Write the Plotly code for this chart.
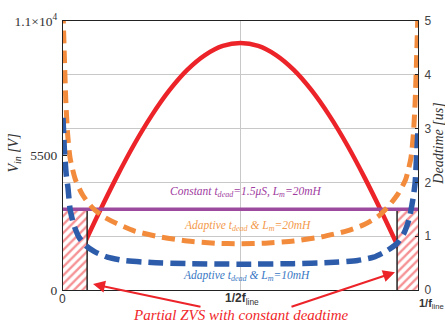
import plotly.graph_objects as go

# Normalised time over one line half-cycle (0 .. 1/f_line)
t_vin = [0.0, 0.05, 0.10, 0.15, 0.20, 0.25, 0.30, 0.35, 0.40, 0.45, 0.50,
         0.55, 0.60, 0.65, 0.70, 0.75, 0.80, 0.85, 0.90, 0.95, 1.0]
vin = [0, 1580, 3120, 4585, 5940, 7140, 8170, 9000, 9605, 9980, 10100,
       9980, 9605, 9000, 8170, 7140, 5940, 4585, 3120, 1580, 0]

# Adaptive deadtime, Lm = 20 mH  [us]
t_ad20 = [0.0, 0.004, 0.008, 0.013, 0.02, 0.035, 0.055, 0.08, 0.11, 0.15, 0.20,
          0.27, 0.35, 0.43, 0.50, 0.57, 0.65, 0.73, 0.80, 0.85, 0.89, 0.92,
          0.945, 0.965, 0.98, 0.987, 0.992, 0.996, 1.0]
ad20 = [5.2, 4.3, 3.5, 2.9, 2.45, 2.05, 1.77, 1.55, 1.38, 1.24, 1.10,
        0.99, 0.91, 0.87, 0.86, 0.87, 0.91, 0.99, 1.10, 1.22, 1.38, 1.58,
        1.80, 2.05, 2.45, 2.9, 3.5, 4.3, 5.2]

# Adaptive deadtime, Lm = 10 mH  [us]
t_ad10 = [0.0, 0.004, 0.009, 0.014, 0.02, 0.03, 0.045, 0.065, 0.09, 0.125, 0.17,
          0.25, 0.35, 0.50, 0.65, 0.75, 0.83, 0.875, 0.91, 0.94, 0.96, 0.975,
          0.986, 0.992, 0.996, 1.0]
ad10 = [3.2, 2.6, 2.15, 1.9, 1.5, 1.22, 0.98, 0.82, 0.71, 0.61, 0.55,
        0.51, 0.49, 0.48, 0.49, 0.51, 0.55, 0.61, 0.72, 0.86, 1.05, 1.32,
        1.7, 2.0, 2.5, 3.0]

# Constant deadtime [us]
t_const = [0.0, 1.0]
const_dead = [1.5, 1.5]

# Intervals where the constant deadtime gives only partial ZVS
pzvs_left = [0.0, 0.068]
pzvs_right = [0.941, 1.0]

RED = "#ec2429"
ORANGE = "#f28b3c"
BLUE = "#2d5cab"
PURPLE = "#9b4a9e"

fig = go.Figure()

# hatched partial-ZVS regions (under everything else)
for x0, x1 in (pzvs_left, pzvs_right):
    fig.add_trace(go.Scatter(
        x=[x0, x1, x1, x0, x0], y=[0, 0, const_dead[0], const_dead[0], 0],
        yaxis="y2", mode="lines", line=dict(width=0), fill="toself",
        fillcolor="white",
        fillpattern=dict(shape="/", fgcolor=RED, bgcolor="white", size=6, solidity=0.4),
        hoverinfo="skip", showlegend=False))

# black boundaries of the hatched regions
for xb in (pzvs_left[1], pzvs_right[0]):
    fig.add_trace(go.Scatter(
        x=[xb, xb], y=[0, const_dead[0]], yaxis="y2", mode="lines",
        line=dict(color="#222222", width=1.5), hoverinfo="skip", showlegend=False))

fig.add_trace(go.Scatter(
    x=t_vin, y=vin, mode="lines", line=dict(color=RED, width=4.5, shape="spline"),
    showlegend=False))

fig.add_trace(go.Scatter(
    x=t_const, y=const_dead, yaxis="y2", mode="lines",
    line=dict(color=PURPLE, width=3.5), showlegend=False))

fig.add_trace(go.Scatter(
    x=t_ad20, y=ad20, yaxis="y2", mode="lines",
    line=dict(color=ORANGE, width=5, dash="13px,7px", shape="spline", smoothing=0.6),
    showlegend=False))

fig.add_trace(go.Scatter(
    x=t_ad10, y=ad10, yaxis="y2", mode="lines",
    line=dict(color=BLUE, width=5.5, dash="15px,7px", shape="spline", smoothing=0.6),
    showlegend=False))

L, R, T, B = 63, 27, 18, 33
W, H = 445, 323
pw, ph = W - L - R, H - T - B


def px(xp):
    return (xp - L) / pw


def py(yp):
    return (H - B - yp) / ph


serif = "Liberation Serif"
sans = "Liberation Sans"

ann = [
    # x-axis labels
    dict(x=px(62), y=py(299), text="0", font=dict(family=sans, size=12, color="#333")),
    dict(x=px(242), y=py(299), text="<b>1/2f</b><sub>line</sub>",
         font=dict(family=sans, size=12, color="#333")),
    dict(x=px(431), y=py(304), text="<b>1/f</b><sub>line</sub>",
         font=dict(family=sans, size=11, color="#333")),
    # axis titles
    dict(x=px(15), y=py(152), text="<i>V<sub>in</sub> [V]</i>", textangle=-90,
         font=dict(family=serif, size=14, color="#333")),
    dict(x=px(439), y=py(142), text="<i>Deadtime [us]</i>", textangle=-90,
         font=dict(family=serif, size=14, color="#333")),
    # curve labels
    dict(x=px(245), y=py(191),
         text="<i>Constant t<sub>dead</sub>=1.5μS, L<sub>m</sub>=20mH</i>",
         font=dict(family=serif, size=11.5, color="#a03ca0")),
    dict(x=px(247), y=py(225),
         text="<i>Adaptive t<sub>dead</sub> &amp; L<sub>m</sub>=20mH</i>",
         font=dict(family=serif, size=11.5, color="#f39a4c")),
    dict(x=px(246), y=py(276),
         text="<i>Adaptive t<sub>dead</sub> &amp; L<sub>m</sub>=10mH</i>",
         font=dict(family=serif, size=11.5, color="#3a78c4")),
    dict(x=px(241), y=py(315), text="<i>Partial ZVS with constant deadtime</i>",
         font=dict(family=serif, size=15, color="#f0262a")),
]
for a in ann:
    a.update(xref="paper", yref="paper", showarrow=False, xanchor="center", yanchor="middle")

# arrows from the note to both hatched regions
for head, tail in (((93, 284), (202, 307)), ((395, 272), (290, 307))):
    ann.append(dict(
        xref="paper", yref="paper", x=px(head[0]), y=py(head[1]),
        ax=tail[0] - head[0], ay=tail[1] - head[1], text="", showarrow=True,
        arrowhead=2, arrowsize=1.2, arrowwidth=2, arrowcolor=RED))

fig.update_layout(
    width=W, height=H,
    margin=dict(l=L, r=R, t=T, b=B),
    paper_bgcolor="white", plot_bgcolor="white",
    showlegend=False,
    annotations=ann,
    xaxis=dict(range=[0, 1], tickvals=[0, 0.5, 1], showticklabels=False,
               showgrid=True, gridcolor="#c8c8c8", gridwidth=1, zeroline=False,
               showline=True, linecolor="#222", linewidth=1.2, mirror=True, ticks=""),
    yaxis=dict(range=[0, 11000], tickvals=[0, 5500, 11000],
               ticktext=["0", "5500", "1.1×10<sup>4</sup>"],
               tickfont=dict(family=serif, size=13.5, color="#333"),
               showgrid=False, zeroline=False, showline=True, linecolor="#222",
               linewidth=1.2, ticks="inside", ticklen=4, tickcolor="#222",
               ticklabelstandoff=2),
    yaxis2=dict(range=[0, 5], overlaying="y", side="right", tickvals=[0, 1, 2, 3, 4, 5],
                tickfont=dict(family=sans, size=12, color="#444"),
                showgrid=True, gridcolor="#c8c8c8", gridwidth=1, zeroline=False,
                showline=True, linecolor="#222", linewidth=1.2, ticks="inside",
                ticklen=3, tickcolor="#222", ticklabelstandoff=3),
)

fig.write_html("out.html")
